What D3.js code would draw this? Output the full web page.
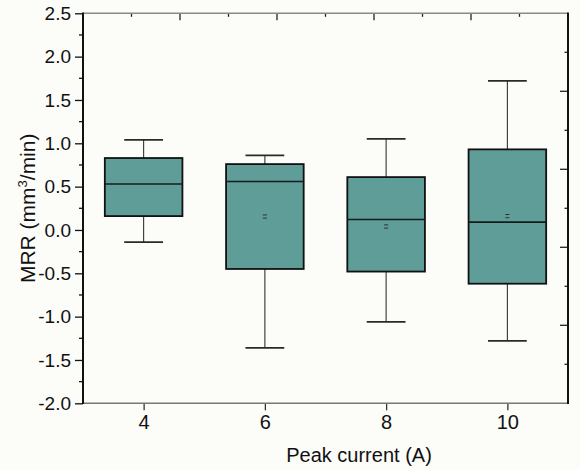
<!DOCTYPE html>
<html>
<head>
<meta charset="utf-8">
<script src="https://cdn.jsdelivr.net/npm/d3@7/dist/d3.min.js"></script>
<style>
  html, body { margin: 0; padding: 0; background: #fcfcf9; }
  svg { display: block; font-family: "Liberation Sans", Arial, sans-serif; }
</style>
</head>
<body>
<svg id="chart" width="580" height="470"></svg>
<script>
// ---- data ----
const categories   = [4, 6, 8, 10];
const whiskerLow   = [-0.14, -1.36, -1.06, -1.28];
const boxLow       = [0.16, -0.45, -0.48, -0.62];
const medians      = [0.53, 0.56, 0.12, 0.09];
const boxHigh      = [0.83, 0.76, 0.61, 0.93];
const whiskerHigh  = [1.04, 0.86, 1.05, 1.72];
const means        = [null, 0.155, 0.04, 0.16];
const yTicks       = [-2.0, -1.5, -1.0, -0.5, 0.0, 0.5, 1.0, 1.5, 2.0, 2.5];
const xTicks       = [4, 6, 8, 10];
const xLabel = "Peak current (A)";

// ---- layout ----
const svg = d3.select("#chart");
const pLeft = 83, pRight = 568, pTop = 13.3, pBottom = 403.3;
const x = d3.scaleLinear().domain([3, 11]).range([pLeft, pRight]);
const y = d3.scaleLinear().domain([-2.0, 2.5]).range([pBottom, pTop]);
const boxW = 1.28; // in x units
const fill = "#5f9d99";
const FONT = "Liberation Sans, Arial, sans-serif";

const data = categories.map((c, i) => ({
  c, wl: whiskerLow[i], q1: boxLow[i], med: medians[i], q3: boxHigh[i], wh: whiskerHigh[i], mean: means[i]
}));

const g = svg.append("g");

// whiskers (vertical)
g.append("g").selectAll("line").data(data).join("line")
  .attr("x1", d => x(d.c)).attr("x2", d => x(d.c))
  .attr("y1", d => y(d.q3)).attr("y2", d => y(d.wh))
  .attr("stroke", "#333").attr("stroke-width", 1.1);
g.append("g").selectAll("line").data(data).join("line")
  .attr("x1", d => x(d.c)).attr("x2", d => x(d.c))
  .attr("y1", d => y(d.q1)).attr("y2", d => y(d.wl))
  .attr("stroke", "#333").attr("stroke-width", 1.1);
// caps
const capHalf = (x(boxW) - x(0)) / 4;
["wh", "wl"].forEach(k => {
  g.append("g").selectAll("line").data(data).join("line")
    .attr("x1", d => x(d.c) - capHalf).attr("x2", d => x(d.c) + capHalf)
    .attr("y1", d => y(d[k])).attr("y2", d => y(d[k]))
    .attr("stroke", "#2a2a2a").attr("stroke-width", 1.8);
});

// boxes
const halfW = (x(boxW) - x(0)) / 2;
g.append("g").selectAll("rect").data(data).join("rect")
  .attr("x", d => x(d.c) - halfW).attr("width", 2 * halfW)
  .attr("y", d => y(d.q3)).attr("height", d => y(d.q1) - y(d.q3))
  .attr("fill", fill).attr("stroke", "#111").attr("stroke-width", 1.8);

// medians
g.append("g").selectAll("line").data(data).join("line")
  .attr("x1", d => x(d.c) - halfW).attr("x2", d => x(d.c) + halfW)
  .attr("y1", d => y(d.med)).attr("y2", d => y(d.med))
  .attr("stroke", "#141c1c").attr("stroke-width", 1.6);

// means: tiny "=" marks (top and bottom edge of a small square)
const meanData = data.filter(d => d.mean !== null);
[-1.6, 1.6].forEach(off => {
  g.append("g").selectAll("line").data(meanData).join("line")
    .attr("x1", d => x(d.c) - 2).attr("x2", d => x(d.c) + 2)
    .attr("y1", d => y(d.mean) + off).attr("y2", d => y(d.mean) + off)
    .attr("stroke", "#2a3333").attr("stroke-width", 1);
});

// ---- axes ----
const fmtY = v => d3.format(".1f")(v).replace("\u2212", "-");
const yAxis = d3.axisLeft(y).tickValues(yTicks).tickFormat(fmtY).tickSize(8).tickPadding(4);
const ya = svg.append("g").attr("transform", `translate(${pLeft},0)`).call(yAxis);
ya.select(".domain").remove();
ya.selectAll(".tick line").attr("stroke", "#111").attr("stroke-width", 1.3);
ya.selectAll(".tick text").attr("font-size", 19).attr("fill", "#111").attr("font-family", FONT);
// left minor ticks
const yMinor = d3.range(-1.75, 2.5, 0.5);
svg.append("g").selectAll("line").data(yMinor).join("line")
  .attr("x1", pLeft - 4).attr("x2", pLeft).attr("y1", d => y(d)).attr("y2", d => y(d))
  .attr("stroke", "#111").attr("stroke-width", 1.3);

// bottom axis
const xAxis = d3.axisBottom(x).tickValues(xTicks).tickFormat(d3.format("d")).tickSize(7).tickPadding(5);
const xa = svg.append("g").attr("transform", `translate(0,${pBottom})`).call(xAxis);
xa.select(".domain").remove();
xa.selectAll(".tick line").attr("stroke", "#333").attr("stroke-width", 1.3);
xa.selectAll(".tick text").attr("font-size", 20).attr("fill", "#111").attr("font-family", FONT);

// top axis: inward ticks, 10 divisions
const topScale = d3.scaleLinear().domain([0, 10]).range([pLeft, pRight]);
svg.append("g").selectAll("line").data(d3.range(1, 10)).join("line")
  .attr("x1", d => topScale(d)).attr("x2", d => topScale(d))
  .attr("y1", pTop).attr("y2", d => pTop + (d % 2 === 0 ? 7 : 3.5))
  .attr("stroke", "#222").attr("stroke-width", 1.3);
// right axis: inward ticks, 10 divisions
const rightScale = d3.scaleLinear().domain([0, 10]).range([pTop, pBottom]);
svg.append("g").selectAll("line").data(d3.range(1, 10)).join("line")
  .attr("y1", d => rightScale(d)).attr("y2", d => rightScale(d))
  .attr("x1", pRight).attr("x2", d => pRight - (d % 2 === 0 ? 8 : 3.5))
  .attr("stroke", "#222").attr("stroke-width", 1.3);

// frame lines
svg.append("line").attr("x1", pLeft).attr("x2", pRight).attr("y1", pTop).attr("y2", pTop)
  .attr("stroke", "#8a8a8a").attr("stroke-width", 1.5);
svg.append("line").attr("x1", pLeft).attr("x2", pRight).attr("y1", pBottom).attr("y2", pBottom)
  .attr("stroke", "#777").attr("stroke-width", 1.5);
svg.append("line").attr("x1", pLeft).attr("x2", pLeft).attr("y1", pTop - 0.7).attr("y2", pBottom + 0.7)
  .attr("stroke", "#111").attr("stroke-width", 2);
svg.append("line").attr("x1", pRight).attr("x2", pRight).attr("y1", pTop - 0.7).attr("y2", pBottom + 0.7)
  .attr("stroke", "#111").attr("stroke-width", 2);

// titles
svg.append("text").attr("x", 359).attr("y", 461.5).attr("text-anchor", "middle")
  .attr("font-size", 20).attr("fill", "#111").attr("font-family", FONT).text(xLabel);

const yt = svg.append("text").attr("transform", `translate(35,${(pTop + pBottom) / 2}) rotate(-90)`)
  .attr("text-anchor", "middle").attr("font-size", 21).attr("fill", "#111").attr("font-family", FONT);
yt.append("tspan").text("MRR (mm");
yt.append("tspan").attr("font-size", 13).attr("dy", -8).text("3");
yt.append("tspan").attr("dy", 8).text("/min)");
</script>
</body>
</html>
